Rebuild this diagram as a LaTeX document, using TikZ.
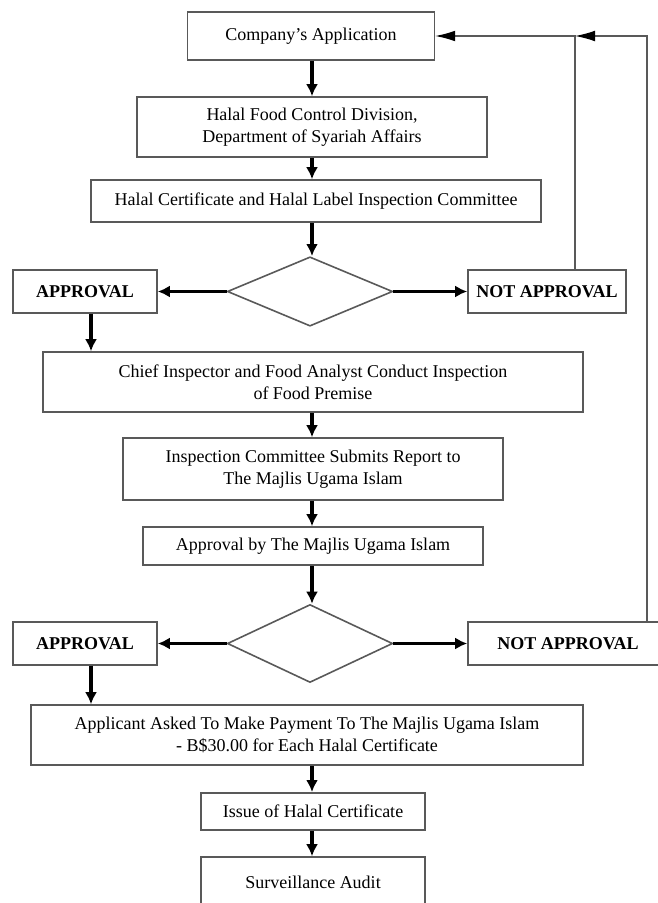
\documentclass[tikz,border=0pt]{standalone}
\usepackage{fontspec}
\setmainfont{Liberation Serif}
\usetikzlibrary{shapes.geometric}
\usetikzlibrary{arrows.meta}

\begin{document}
\begin{tikzpicture}[x=0.75pt,y=-0.75pt,
  box/.style={draw=black!65,line width=1.2pt,align=center,inner sep=0pt,
    font=\fontsize{13.5}{16.5}\selectfont},
  decision/.style={diamond,draw=black!65,line width=1.2pt,inner sep=0pt},
  flow/.style={line width=2.4pt,-{Latex[length=9pt,width=9pt]}},
  back/.style={draw=black!65,line width=0.9pt,-{Latex[length=15pt,width=8pt,color=black]}}]
  \useasboundingbox (0,0) rectangle (657,903);

  %draw boxes
  \node[box,minimum width=185pt,minimum height=36pt] (app) at (311,36) {Company's Application};
  \node[box,minimum width=262.5pt,minimum height=45pt] (hfcd) at (312,127)
    {Halal Food Control Division,\\Department of Syariah Affairs};
  \node[box,minimum width=337.5pt,minimum height=31.5pt] (hcc) at (316,201)
    {Halal Certificate and Halal Label Inspection Committee};
  \node[decision,minimum width=124pt,minimum height=52pt] (dec1) at (310,291.5) {};
  \node[box,minimum width=108pt,minimum height=32pt] (ok1) at (85,291.5) {\textbf{APPROVAL}};
  \node[box,minimum width=118.5pt,minimum height=32pt] (no1) at (547,291.5) {\textbf{NOT APPROVAL}};
  \node[box,minimum width=405pt,minimum height=45pt] (chief) at (313,382)
    {Chief Inspector and Food Analyst Conduct Inspection\\of Food Premise};
  \node[box,minimum width=285pt,minimum height=46.5pt] (icsr) at (313,469)
    {Inspection Committee Submits Report to\\The Majlis Ugama Islam};
  \node[box,minimum width=255pt,minimum height=28.5pt] (abm) at (313,546)
    {Approval by The Majlis Ugama Islam};
  \node[decision,minimum width=124pt,minimum height=58.5pt] (dec2) at (310,643.5) {};
  \node[box,minimum width=108pt,minimum height=32pt] (ok2) at (85,643.5) {\textbf{APPROVAL}};
  \node[box,minimum width=150pt,minimum height=32pt] (no2) at (568,643.5) {\textbf{NOT APPROVAL}};
  \node[box,minimum width=414pt,minimum height=45pt] (pay) at (307,735)
    {Applicant Asked To Make Payment To The Majlis Ugama Islam\\- B\$30.00 for Each Halal Certificate};
  \node[box,minimum width=168pt,minimum height=28pt] (issue) at (313,811.5) {Issue of Halal Certificate};
  \node[box,minimum width=168pt,minimum height=37.5pt] (audit) at (313,882) {Surveillance Audit};

  \coordinate (col) at (312,0);
  \coordinate (left) at (91,0);
  \coordinate (j1) at (575,36);
  \coordinate (j2) at (647,36);

  %draw arrows
  \draw[flow] (app.south -| col) -- (hfcd.north -| col);
  \draw[flow] (hfcd.south -| col) -- (hcc.north -| col);
  \draw[flow] (hcc.south -| col) -- (dec1.north -| col);
  \draw[flow] (dec1.west) -- (ok1.east);
  \draw[flow] (dec1.east) -- (no1.west);
  \draw[flow] (ok1.south -| left) -- (chief.north -| left);
  \draw[flow] (chief.south -| col) -- (icsr.north -| col);
  \draw[flow] (icsr.south -| col) -- (abm.north -| col);
  \draw[flow] (abm.south -| col) -- (dec2.north -| col);
  \draw[flow] (dec2.west) -- (ok2.east);
  \draw[flow] (dec2.east) -- (no2.west);
  \draw[flow] (ok2.south -| left) -- (pay.north -| left);
  \draw[flow] (pay.south -| col) -- (issue.north -| col);
  \draw[flow] (issue.south -| col) -- (audit.north -| col);

  %feedback lines
  \draw[back] (no1.north -| j1) -- (j1) -- (app.east);
  \draw[back] (no2.north -| j2) -- (j2) -- (j1);
\end{tikzpicture}
\end{document}
